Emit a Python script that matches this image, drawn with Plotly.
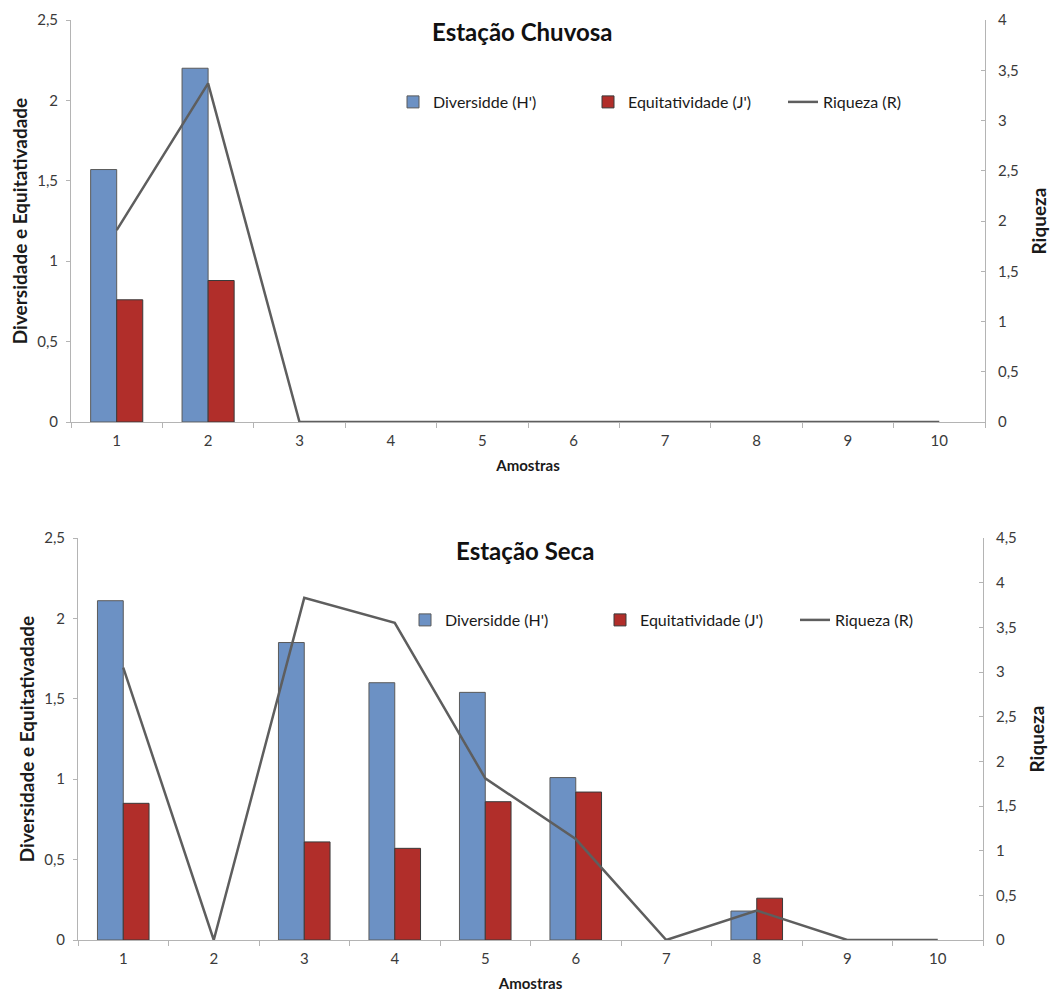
import plotly.graph_objects as go

amostras = ["1", "2", "3", "4", "5", "6", "7", "8", "9", "10"]

# Estação Chuvosa
chuv_H = [1.57, 2.20, None, None, None, None, None, None, None, None]
chuv_J = [0.76, 0.88, None, None, None, None, None, None, None, None]
chuv_R = [1.91, 3.37, 0, 0, 0, 0, 0, 0, 0, 0]

# Estação Seca
seca_H = [2.11, None, 1.85, 1.60, 1.54, 1.01, None, 0.18, None, None]
seca_J = [0.85, None, 0.61, 0.57, 0.86, 0.92, None, 0.26, None, None]
seca_R = [3.05, 0, 3.83, 3.55, 1.81, 1.13, 0, 0.33, 0, 0]

names = ["Diversidde (H')", "Equitatividade (J')", "Riqueza (R)"]
titles = ["Estação Chuvosa", "Estação Seca"]

BLUE = "#6C91C4"
RED = "#B12E2A"
LINE = "#5E5E5E"
AX = "#B4B4B4"
TICKFONT = dict(family="Liberation Sans Narrow, Arial Narrow, Lato, sans-serif", size=15, color="#3A3A3A")
TITLEFONT = dict(family="Lato, Open Sans, sans-serif", size=19, color="#1a1a1a", weight="bold")

W, H = 1050, 992
def px_x(a, b):
    return [a / W, b / W]
def px_y(top, bottom):
    return [(H - bottom) / H, (H - top) / H]

fig = go.Figure()

panels = [
    (chuv_H, chuv_J, chuv_R, "x", "y", "y2", "legend"),
    (seca_H, seca_J, seca_R, "x2", "y3", "y4", "legend2"),
]
for hv, jv, rv, xa, ya, ya2, lg in panels:
    fig.add_trace(go.Bar(x=amostras, y=hv, name=names[0], xaxis=xa, yaxis=ya, legend=lg,
                         marker=dict(color=BLUE, line=dict(color="#5A5A5A", width=1))))
    fig.add_trace(go.Bar(x=amostras, y=jv, name=names[1], xaxis=xa, yaxis=ya, legend=lg,
                         marker=dict(color=RED, line=dict(color="#3A3A3A", width=1))))
    fig.add_trace(go.Scatter(x=amostras, y=rv, name=names[2], xaxis=xa, yaxis=ya2, legend=lg,
                             mode="lines", line=dict(color=LINE, width=2.5)))

xcommon = dict(type="category", range=[-0.5, 9.5], showline=True, linecolor=AX, linewidth=1,
               ticks="outside", tickson="boundaries", ticklen=5, tickcolor=AX,
               tickfont=TICKFONT, showgrid=False, zeroline=False, ticklabelstandoff=5,
               title=dict(text="Amostras", font=dict(family="Lato, sans-serif", size=15,
                                                     color="#1a1a1a", weight="bold"), standoff=12))
ycommon = dict(showline=True, linecolor=AX, linewidth=1, ticks="outside", ticklen=4, tickcolor=AX,
               tickfont=TICKFONT, showgrid=False, zeroline=False, dtick=0.5)

legcommon = dict(orientation="h", xanchor="left", yanchor="middle",
                 entrywidth=150, entrywidthmode="pixels", itemwidth=30,
                 font=dict(family="Lato, sans-serif", size=16, color="#1a1a1a"),
                 bgcolor="rgba(0,0,0,0)")

fig.update_layout(
    width=W, height=H, margin=dict(l=0, r=0, t=0, b=0, autoexpand=False),
    paper_bgcolor="white", plot_bgcolor="white",
    separators=", ",
    barmode="group", bargap=0.43, bargroupgap=0,
    xaxis=dict(**xcommon, domain=px_x(71, 985), anchor="y"),
    xaxis2=dict(**xcommon, domain=px_x(78, 983), anchor="y3"),
    yaxis=dict(**ycommon, domain=px_y(20, 422), range=[0, 2.5], anchor="x", ticklabelstandoff=5,
               title=dict(text="Diversidade e Equitativadade", font=TITLEFONT, standoff=4)),
    yaxis2=dict(**{**ycommon, "ticks": "inside"}, range=[0, 4], overlaying="y", side="right", anchor="x",
                ticklabelstandoff=9,
                title=dict(text="Riqueza", font=TITLEFONT, standoff=14)),
    yaxis3=dict(**ycommon, domain=px_y(538, 940), range=[0, 2.5], anchor="x2", ticklabelstandoff=5,
                title=dict(text="Diversidade e Equitativadade", font=TITLEFONT, standoff=4)),
    yaxis4=dict(**{**ycommon, "ticks": "inside"}, range=[0, 4.5], overlaying="y3", side="right", anchor="x2",
                ticklabelstandoff=9,
                title=dict(text="Riqueza", font=TITLEFONT, standoff=14)),
    legend=dict(**legcommon, x=393 / W, y=(H - 102) / H),
    legend2=dict(**legcommon, x=405 / W, y=(H - 620) / H),
    annotations=[
        dict(text=titles[0], x=522 / W, y=(H - 32) / H, xref="paper", yref="paper", showarrow=False,
             font=dict(family="Lato, sans-serif", size=24, color="#111111", weight="bold"),
             xanchor="center", yanchor="middle"),
        dict(text=titles[1], x=525 / W, y=(H - 550) / H, xref="paper", yref="paper", showarrow=False,
             font=dict(family="Lato, sans-serif", size=24, color="#111111", weight="bold"),
             xanchor="center", yanchor="middle"),
    ],
)

fig.write_html("out.html")
